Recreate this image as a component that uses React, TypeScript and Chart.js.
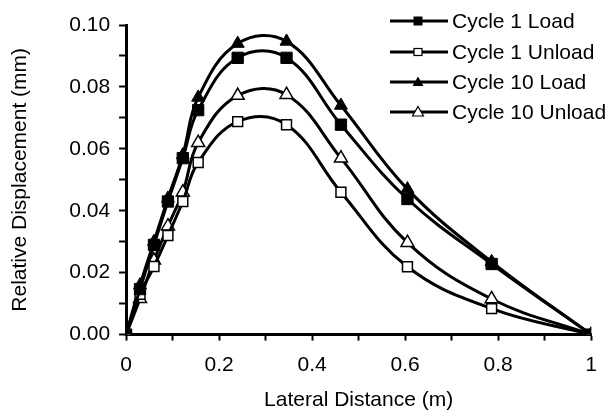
import React, { useEffect, useRef } from 'react';
import { Chart, registerables } from 'chart.js';

Chart.register(...registerables);

const distances = [0, 0.03, 0.06, 0.09, 0.122, 0.155, 0.24, 0.345, 0.462, 0.605, 0.786, 1.0];
const cycle1Load = [0, 0.0147, 0.029, 0.043, 0.057, 0.0725, 0.0894, 0.0894, 0.0678, 0.0438, 0.0228, 0];
const cycle1Unload = [0, 0.013, 0.022, 0.032, 0.043, 0.0556, 0.0688, 0.0678, 0.046, 0.0219, 0.0084, 0];
const cycle10Load = [0, 0.016, 0.030, 0.044, 0.058, 0.0766, 0.094, 0.0947, 0.074, 0.047, 0.0235, 0];
const cycle10Unload = [0, 0.0116, 0.024, 0.035, 0.046, 0.062, 0.0772, 0.0775, 0.057, 0.0297, 0.0115, 0];

const seriesNames = ['Cycle 1 Load', 'Cycle 1 Unload', 'Cycle 10 Load', 'Cycle 10 Unload'];
const yTickLabels = ['0.00', '0.02', '0.04', '0.06', '0.08', '0.10'];
const xTickLabels = ['0', '0.2', '0.4', '0.6', '0.8', '1'];

const FONT = "'Liberation Sans', Arial, sans-serif";

function LegendMarker({ kind }: { kind: number }) {
  const cx = 28;
  const cy = 8;
  let marker: React.ReactNode = null;
  if (kind === 0) marker = <rect x={cx - 4.5} y={cy - 4.5} width={9} height={9} fill="#000" />;
  if (kind === 1) marker = <rect x={cx - 4} y={cy - 3.5} width={8} height={7} fill="#fff" stroke="#000" strokeWidth={1.2} />;
  if (kind === 2) marker = <polygon points={`${cx},${cy - 5.5} ${cx + 5.5},${cy + 4} ${cx - 5.5},${cy + 4}`} fill="#000" />;
  if (kind === 3) marker = <polygon points={`${cx},${cy - 5.5} ${cx + 5.5},${cy + 4} ${cx - 5.5},${cy + 4}`} fill="#fff" stroke="#000" strokeWidth={1.2} />;
  return (
    <svg width={58} height={16} style={{ display: 'block' }}>
      <line x1={0} y1={cy} x2={58} y2={cy} stroke="#000" strokeWidth={3} />
      {marker}
    </svg>
  );
}

export default function App() {
  const ref = useRef<HTMLCanvasElement | null>(null);

  useEffect(() => {
    if (!ref.current) return;
    const mk = (vals: number[]) => vals.map((v, i) => ({ x: distances[i], y: v }));
    const common = {
      borderColor: '#000',
      borderWidth: 3,
      tension: 0.4,
      pointBorderColor: '#000',
      fill: false,
    };
    const chart = new Chart(ref.current, {
      type: 'line',
      data: {
        datasets: [
          { ...common, label: seriesNames[0], data: mk(cycle1Load), pointStyle: 'rect', pointRadius: 8, pointBackgroundColor: '#000', pointBorderWidth: 1 },
          { ...common, label: seriesNames[1], data: mk(cycle1Unload), pointStyle: 'rect', pointRadius: 7, pointBackgroundColor: '#fff', pointBorderWidth: 1.5 },
          { ...common, label: seriesNames[2], data: mk(cycle10Load), pointStyle: 'triangle', pointRadius: 7.5, pointBackgroundColor: '#000', pointBorderWidth: 1 },
          { ...common, label: seriesNames[3], data: mk(cycle10Unload), pointStyle: 'triangle', pointRadius: 7.5, pointBackgroundColor: '#fff', pointBorderWidth: 1.5 },
        ],
      },
      options: {
        responsive: false,
        animation: false,
        layout: { padding: { top: 25, right: 9, bottom: 3, left: 0 } },
        plugins: { legend: { display: false }, tooltip: { enabled: false } },
        scales: {
          x: {
            type: 'linear',
            min: 0,
            max: 1,
            ticks: {
              stepSize: 0.1,
              autoSkip: false,
              maxRotation: 0,
              padding: 12,
              color: '#000',
              font: { family: FONT, size: 21 },
              callback: (v: any) => {
                const k = Math.round(Number(v) * 10);
                return k % 2 === 0 ? xTickLabels[k / 2] : '';
              },
            },
            grid: { drawOnChartArea: false, drawTicks: true, tickLength: 6, tickWidth: 2, tickColor: '#000' },
            border: { color: '#000', width: 3 },
            title: { display: true, text: 'Lateral Distance (m)', color: '#000', font: { family: FONT, size: 21 }, padding: { top: -2, bottom: 2 } },
          },
          y: {
            type: 'linear',
            min: 0,
            max: 0.1,
            ticks: {
              stepSize: 0.01,
              autoSkip: false,
              padding: 9,
              color: '#000',
              font: { family: FONT, size: 21 },
              callback: (v: any) => {
                const k = Math.round(Number(v) * 100);
                return k % 2 === 0 ? yTickLabels[k / 2] : '';
              },
            },
            grid: { drawOnChartArea: false, drawTicks: true, tickLength: 7, tickWidth: 2, tickColor: '#000' },
            border: { color: '#000', width: 3 },
            title: { display: true, text: 'Relative Displacement (mm)', color: '#000', font: { family: FONT, size: 21 }, padding: { top: 8, bottom: 27 } },
          },
        },
      },
    });
    return () => chart.destroy();
  }, []);

  const rowCenters = [21, 52, 82, 112];

  return (
    <div style={{ position: 'fixed', left: 0, top: 0, width: 609, height: 418, background: '#fff' }}>
      <canvas ref={ref} width={609} height={418} style={{ display: 'block' }} />
      {seriesNames.map((name, i) => (
        <div
          key={name}
          style={{
            position: 'absolute',
            left: 390,
            top: rowCenters[i] - 15,
            height: 30,
            display: 'flex',
            alignItems: 'center',
            fontFamily: FONT,
            fontSize: 21,
            color: '#000',
            whiteSpace: 'nowrap',
          }}
        >
          <LegendMarker kind={i} />
          <span style={{ marginLeft: 4 }}>{name}</span>
        </div>
      ))}
    </div>
  );
}
